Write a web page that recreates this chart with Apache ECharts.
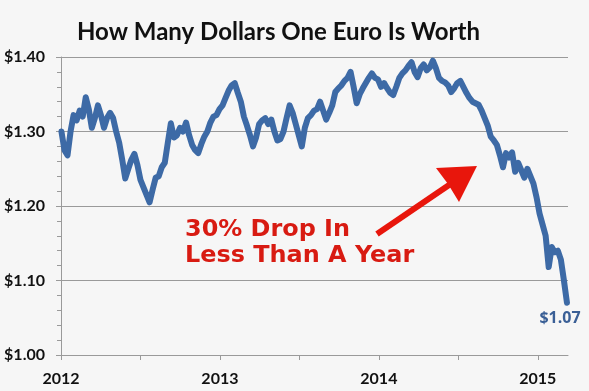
<!DOCTYPE html>
<html>
<head>
<meta charset="utf-8">
<script src="https://cdn.jsdelivr.net/npm/echarts@6/dist/echarts.min.js"></script>
<style>
html,body{margin:0;padding:0;background:#f6f6f6;}
#c{width:589px;height:391px;}
</style>
</head>
<body>
<div id="c"></div>
<script>
// ---- data ----
const titleText = 'How Many Dollars One Euro Is Worth';
const firstWeek = [2012, 0, 2];           // weekly observations (Mondays), starting 2 Jan 2012
const eurUsd = [
  // 2012
  1.300,1.275,1.268,1.300,1.322,1.315,1.328,1.320,1.346,1.330,
  1.305,1.318,1.335,1.322,1.305,1.318,1.325,1.318,1.300,1.285,
  1.262,1.237,1.250,1.262,1.270,1.255,1.235,1.225,1.215,1.205,
  1.222,1.238,1.240,1.252,1.258,1.285,1.311,1.292,1.295,1.305,
  1.300,1.312,1.295,1.282,1.275,1.271,1.283,1.293,1.300,1.312,
  1.320,1.322,1.330,
  // 2013
  1.335,1.345,1.355,1.362,1.365,1.352,1.340,1.320,1.308,1.295,
  1.280,1.292,1.310,1.315,1.318,1.310,1.316,1.300,1.288,1.290,
  1.300,1.318,1.335,1.325,1.310,1.295,1.280,1.305,1.318,1.322,
  1.328,1.330,1.340,1.328,1.316,1.325,1.335,1.353,1.358,1.362,
  1.368,1.372,1.380,1.360,1.338,1.350,1.358,1.365,1.372,1.378,
  1.372,1.370,
  // 2014
  1.360,1.365,1.358,1.352,1.349,1.360,1.372,1.378,1.382,1.388,
  1.393,1.380,1.373,1.385,1.390,1.382,1.386,1.395,1.385,1.372,
  1.368,1.366,1.362,1.353,1.358,1.365,1.368,1.360,1.352,1.345,
  1.340,1.338,1.336,1.328,1.318,1.308,1.293,1.288,1.282,1.268,
  1.252,1.271,1.265,1.272,1.246,1.258,1.248,1.238,1.250,1.240,
  1.230,1.212,
  // 2015
  1.190,1.175,1.160,1.118,1.145,1.138,1.140,1.128,1.100,1.070
];
const yTicks = [1.00, 1.10, 1.20, 1.30, 1.40];
const xLabelYears = [2012, 2013, 2014, 2015];
const xTickYears = [2012, 2012.5, 2013, 2013.5, 2014, 2014.5, 2015];
const xMin = 2012, xMax = 2015.19;
const annotationLines = ['30% Drop In', 'Less Than A Year'];

// ---- build ----
const DAY = 86400000;
const t0 = Date.UTC(firstWeek[0], firstWeek[1], firstWeek[2]);
function decYear(t) {
  const y = new Date(t).getUTCFullYear();
  const a = Date.UTC(y, 0, 1), b = Date.UTC(y + 1, 0, 1);
  return y + (t - a) / (b - a);
}
const seriesData = eurUsd.map((v, i) => [decYear(t0 + i * 7 * DAY), v]);
const last = seriesData[seriesData.length - 1];

const chart = echarts.init(document.getElementById('c'), null, {renderer: 'canvas'});
const axisGrey = '#9a9a9a';
const lblFont = {fontFamily: 'Lato', fontWeight: 'bold', fontSize: 16, color: '#111'};

chart.setOption({
  backgroundColor: '#f6f6f6',
  animation: false,
  title: {
    text: titleText, left: 72, top: 15,
    textStyle: {fontFamily: 'Lato', fontWeight: 'bold', fontSize: 24, color: '#111'}
  },
  grid: {left: 61, right: 21, top: 57, bottom: 36, containLabel: false},
  xAxis: {
    type: 'value', min: xMin, max: xMax, interval: 0.5,
    axisLine: {show: true, onZero: false, lineStyle: {color: axisGrey, width: 1}},
    axisTick: {show: true, length: 5, lineStyle: {color: axisGrey}, customValues: xTickYears},
    axisLabel: Object.assign({margin: 16, customValues: xLabelYears,
      formatter: v => (Math.abs(v - Math.round(v)) < 1e-6 ? String(Math.round(v)) : '')}, lblFont),
    splitLine: {show: false}
  },
  yAxis: {
    type: 'value', min: yTicks[0], max: yTicks[yTicks.length - 1], interval: 0.1,
    axisLine: {show: true, lineStyle: {color: axisGrey, width: 1}},
    axisTick: {show: true, length: 5, lineStyle: {color: axisGrey}},
    minorTick: {show: true, splitNumber: 5, length: 4, lineStyle: {color: axisGrey}},
    axisLabel: Object.assign({margin: 16, formatter: v => '$' + v.toFixed(2)}, lblFont),
    splitLine: {show: true, lineStyle: {color: axisGrey, width: 1}}
  },
  series: [{
    type: 'line', data: seriesData, showSymbol: false, symbol: 'none',
    lineStyle: {color: '#3d6aa6', width: 6, cap: 'round', join: 'round'},
    markPoint: {
      symbol: 'circle', symbolSize: 1, itemStyle: {color: 'rgba(0,0,0,0)'},
      label: {show: true, position: 'bottom', distance: 7, offset: [-7, 0],
        formatter: p => '$' + Number(p.value).toFixed(2),
        fontFamily: 'Open Sans', fontWeight: 'bold', fontSize: 16, color: '#3a5f96'},
      data: [{coord: last, value: last[1]}]
    }
  }],
  graphic: [
    {type: 'line', shape: {x1: 377, y1: 234, x2: 452, y2: 183}, style: {stroke: '#e8160c', lineWidth: 6, lineCap: 'butt'}, z: 10},
    {type: 'polygon', shape: {points: [[477,166],[436,168],[448,184],[459,202]]}, style: {fill: '#e8160c'}, z: 10},
    {type: 'text', x: 185, y: 230, scaleX: 1.04, style: {text: annotationLines[0], fill: '#d81b12',
      font: 'bold 23px "DejaVu Sans"', textVerticalAlign: 'middle', shadowBlur: 3, shadowColor: 'rgba(240,120,110,0.6)'}, z: 10},
    {type: 'text', x: 185, y: 256, scaleX: 1.04, style: {text: annotationLines[1], fill: '#d81b12',
      font: 'bold 23px "DejaVu Sans"', textVerticalAlign: 'middle', shadowBlur: 3, shadowColor: 'rgba(240,120,110,0.6)'}, z: 10}
  ]
});
</script>
</body>
</html>
